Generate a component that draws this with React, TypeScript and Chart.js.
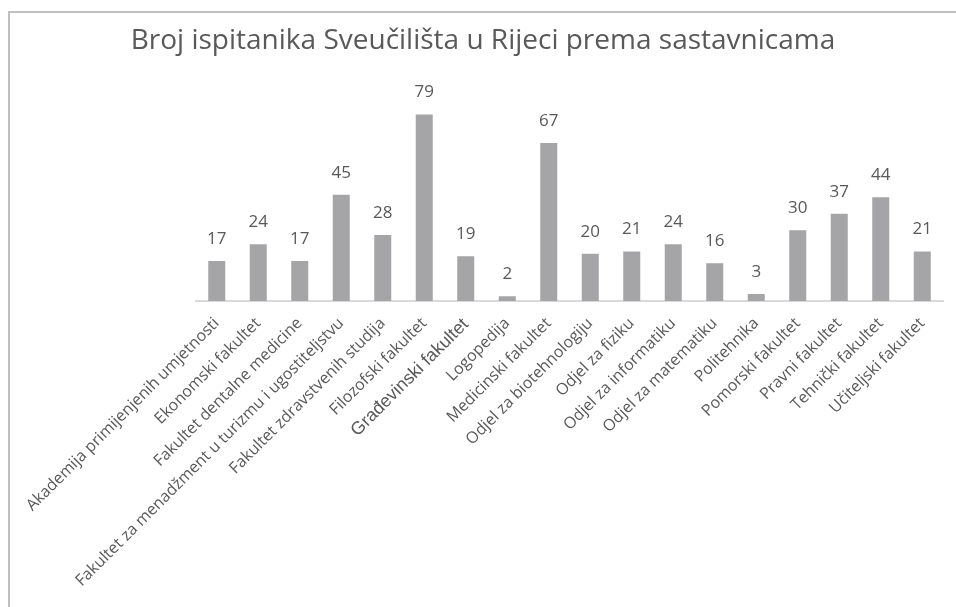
import React, { useEffect, useRef } from "react";
import { Chart, registerables } from "chart.js";

Chart.register(...registerables);

const TITLE = "Broj ispitanika Sveučilišta u Rijeci prema sastavnicama";

const categories: string[] = [
  "Akademija primijenjenih umjetnosti",
  "Ekonomski fakultet",
  "Fakultet dentalne medicine",
  "Fakultet za menadžment u turizmu i ugostiteljstvu",
  "Fakultet zdravstvenih studija",
  "Filozofski fakultet",
  "Građevinski fakultet",
  "Logopedija",
  "Medicinski fakultet",
  "Odjel za biotehnologiju",
  "Odjel za fiziku",
  "Odjel za informatiku",
  "Odjel za matematiku",
  "Politehnika",
  "Pomorski fakultet",
  "Pravni fakultet",
  "Tehnički fakultet",
  "Učiteljski fakultet",
];

const respondents: number[] = [17, 24, 17, 45, 28, 79, 19, 2, 67, 20, 21, 24, 16, 3, 30, 37, 44, 21];

const TEXT_COLOR = "#595959";
const BAR_COLOR = "#a5a5a8";

const valueLabels = {
  id: "valueLabels",
  afterDatasetsDraw(chart: any) {
    const ctx = chart.ctx;
    const meta = chart.getDatasetMeta(0);
    const data = chart.data.datasets[0].data;
    ctx.save();
    ctx.font = "17px 'Open Sans'";
    ctx.fillStyle = TEXT_COLOR;
    ctx.textAlign = "center";
    ctx.textBaseline = "middle";
    meta.data.forEach((bar: any, i: number) => {
      ctx.fillText(String(data[i]), bar.x, bar.y - 22);
    });
    ctx.restore();
  },
};

export default function App() {
  const ref = useRef<HTMLCanvasElement>(null);

  useEffect(() => {
    if (!ref.current) return;
    const chart = new Chart(ref.current, {
      type: "bar",
      data: {
        labels: categories,
        datasets: [
          {
            data: respondents,
            backgroundColor: BAR_COLOR,
            categoryPercentage: 1,
            barPercentage: 0.41,
          },
        ],
      },
      options: {
        responsive: false,
        animation: false,
        layout: { padding: 0 },
        plugins: {
          legend: { display: false },
          tooltip: { enabled: false },
          title: {
            display: true,
            text: TITLE,
            color: TEXT_COLOR,
            font: { family: "'Open Sans'", size: 28, weight: "normal" },
            padding: { top: 11, bottom: 31 },
          },
        },
        scales: {
          x: {
            grid: { display: false, drawTicks: false },
            border: { display: true, color: "#d9d9d9", width: 2 },
            ticks: {
              autoSkip: false,
              maxRotation: 45,
              minRotation: 45,
              padding: 13,
              color: TEXT_COLOR,
              font: (c: any) =>
                c.index === 6
                  ? { family: "'Liberation Sans'", size: 18 }
                  : { family: "'Open Sans'", size: 16 },
            },
            afterFit: (s: any) => {
              s.height = 306;
            },
          },
          y: {
            display: true,
            min: 0,
            max: 90,
            grid: { display: false, drawTicks: false },
            border: { display: false },
            ticks: { display: false },
            afterFit: (s: any) => {
              s.width = 186;
            },
          },
          yRight: {
            type: "linear",
            position: "right",
            display: true,
            min: 0,
            max: 90,
            grid: { display: false, drawTicks: false },
            border: { display: false },
            ticks: { display: false },
            afterFit: (s: any) => {
              s.width = 13;
            },
          },
        },
      },
      plugins: [valueLabels],
    });
    return () => chart.destroy();
  }, []);

  return (
    <div
      style={{
        position: "fixed",
        left: 8,
        top: 11,
        width: 948,
        height: 596,
        borderLeft: "2px solid #c0c0c0",
        borderTop: "2px solid #c0c0c0",
        boxSizing: "border-box",
        background: "#fff",
      }}
    >
      <canvas ref={ref} width={946} height={594} style={{ display: "block" }} />
    </div>
  );
}
